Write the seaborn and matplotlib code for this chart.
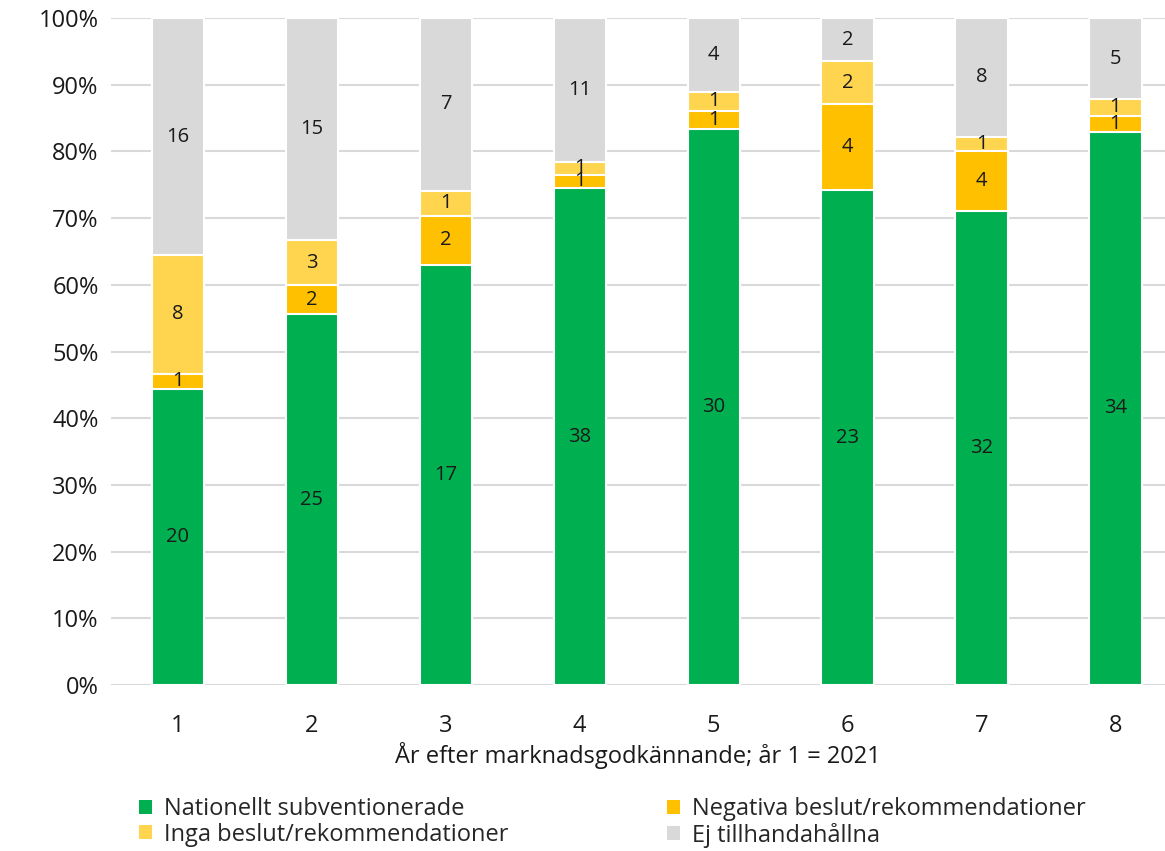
import numpy as np
import pandas as pd
import matplotlib.pyplot as plt
import seaborn as sns
from matplotlib.patches import Patch

years = ['1', '2', '3', '4', '5', '6', '7', '8']
subventionerade = [20, 25, 17, 38, 30, 23, 32, 34]
negativa = [1, 2, 2, 1, 1, 4, 4, 1]
inga_beslut = [8, 3, 1, 1, 1, 2, 1, 1]
ej_tillhanda = [16, 15, 7, 11, 4, 2, 8, 5]

series_names = ['Nationellt subventionerade', 'Negativa beslut/rekommendationer',
                'Inga beslut/rekommendationer', 'Ej tillhandahållna']
colors = ['#00B050', '#FFC000', '#FFD54F', '#D9D9D9']

sns.set_style('white')
plt.rcParams['font.family'] = ['Open Sans', 'DejaVu Sans']

counts = np.array([subventionerade, negativa, inga_beslut, ej_tillhanda], dtype=float)
shares = counts / counts.sum(axis=0) * 100
cum = shares.cumsum(axis=0)

fig = plt.figure(figsize=(11.65, 8.51), dpi=100)
ax = fig.add_axes([111 / 1165, 1 - 685 / 851, 1 - 111 / 1165, (685 - 18) / 851])

# draw cumulative layers from the top down so each segment sits on the next
for i in range(3, -1, -1):
    df = pd.DataFrame({'year': years, 'pct': cum[i]})
    sns.barplot(data=df, x='year', y='pct', color=colors[i], width=0.39,
                edgecolor='white', linewidth=1.5, saturation=1, ax=ax, zorder=2)

# value labels in segment centres
for j in range(len(years)):
    bottom = 0
    for i in range(4):
        mid = bottom + shares[i, j] / 2
        ax.text(j, mid, f'{int(counts[i, j])}', ha='center', va='center',
                fontsize=14.5, color='#1a1a1a', zorder=3)
        bottom += shares[i, j]

ax.set_ylim(0, 100)
ax.set_xlim(-0.5, 7.37)
ax.set_yticks(np.arange(0, 101, 10))
ax.set_yticklabels([f'{v}%' for v in range(0, 101, 10)])
ax.yaxis.grid(True, color='#D9D9D9', linewidth=1.5, zorder=0)
ax.set_axisbelow(True)
for s in ax.spines.values():
    s.set_visible(False)
ax.tick_params(axis='both', length=0, labelsize=17, colors='#1a1a1a')
ax.tick_params(axis='x', pad=21)
ax.tick_params(axis='y', pad=9)
ax.set_xlabel('År efter marknadsgodkännande; år 1 = 2021', fontsize=17,
              color='#1a1a1a', labelpad=3)
ax.set_ylabel('')

# column-wise fill: reorder so rows read Nationellt | Negativa, Inga | Ej
order = [0, 2, 1, 3]
handles = [Patch(facecolor=colors[k], edgecolor='none') for k in order]
labels = [series_names[k] for k in order]
fig.legend(handles, labels, loc='upper left', bbox_to_anchor=(130 / 1165, 1 - 788 / 851),
           ncol=2, frameon=False, fontsize=17, handlelength=0.55, handleheight=0.55,
           handletextpad=0.5, columnspacing=6.7, labelspacing=0.05, borderaxespad=0)

plt.savefig('out.png', dpi=100)
plt.close()
